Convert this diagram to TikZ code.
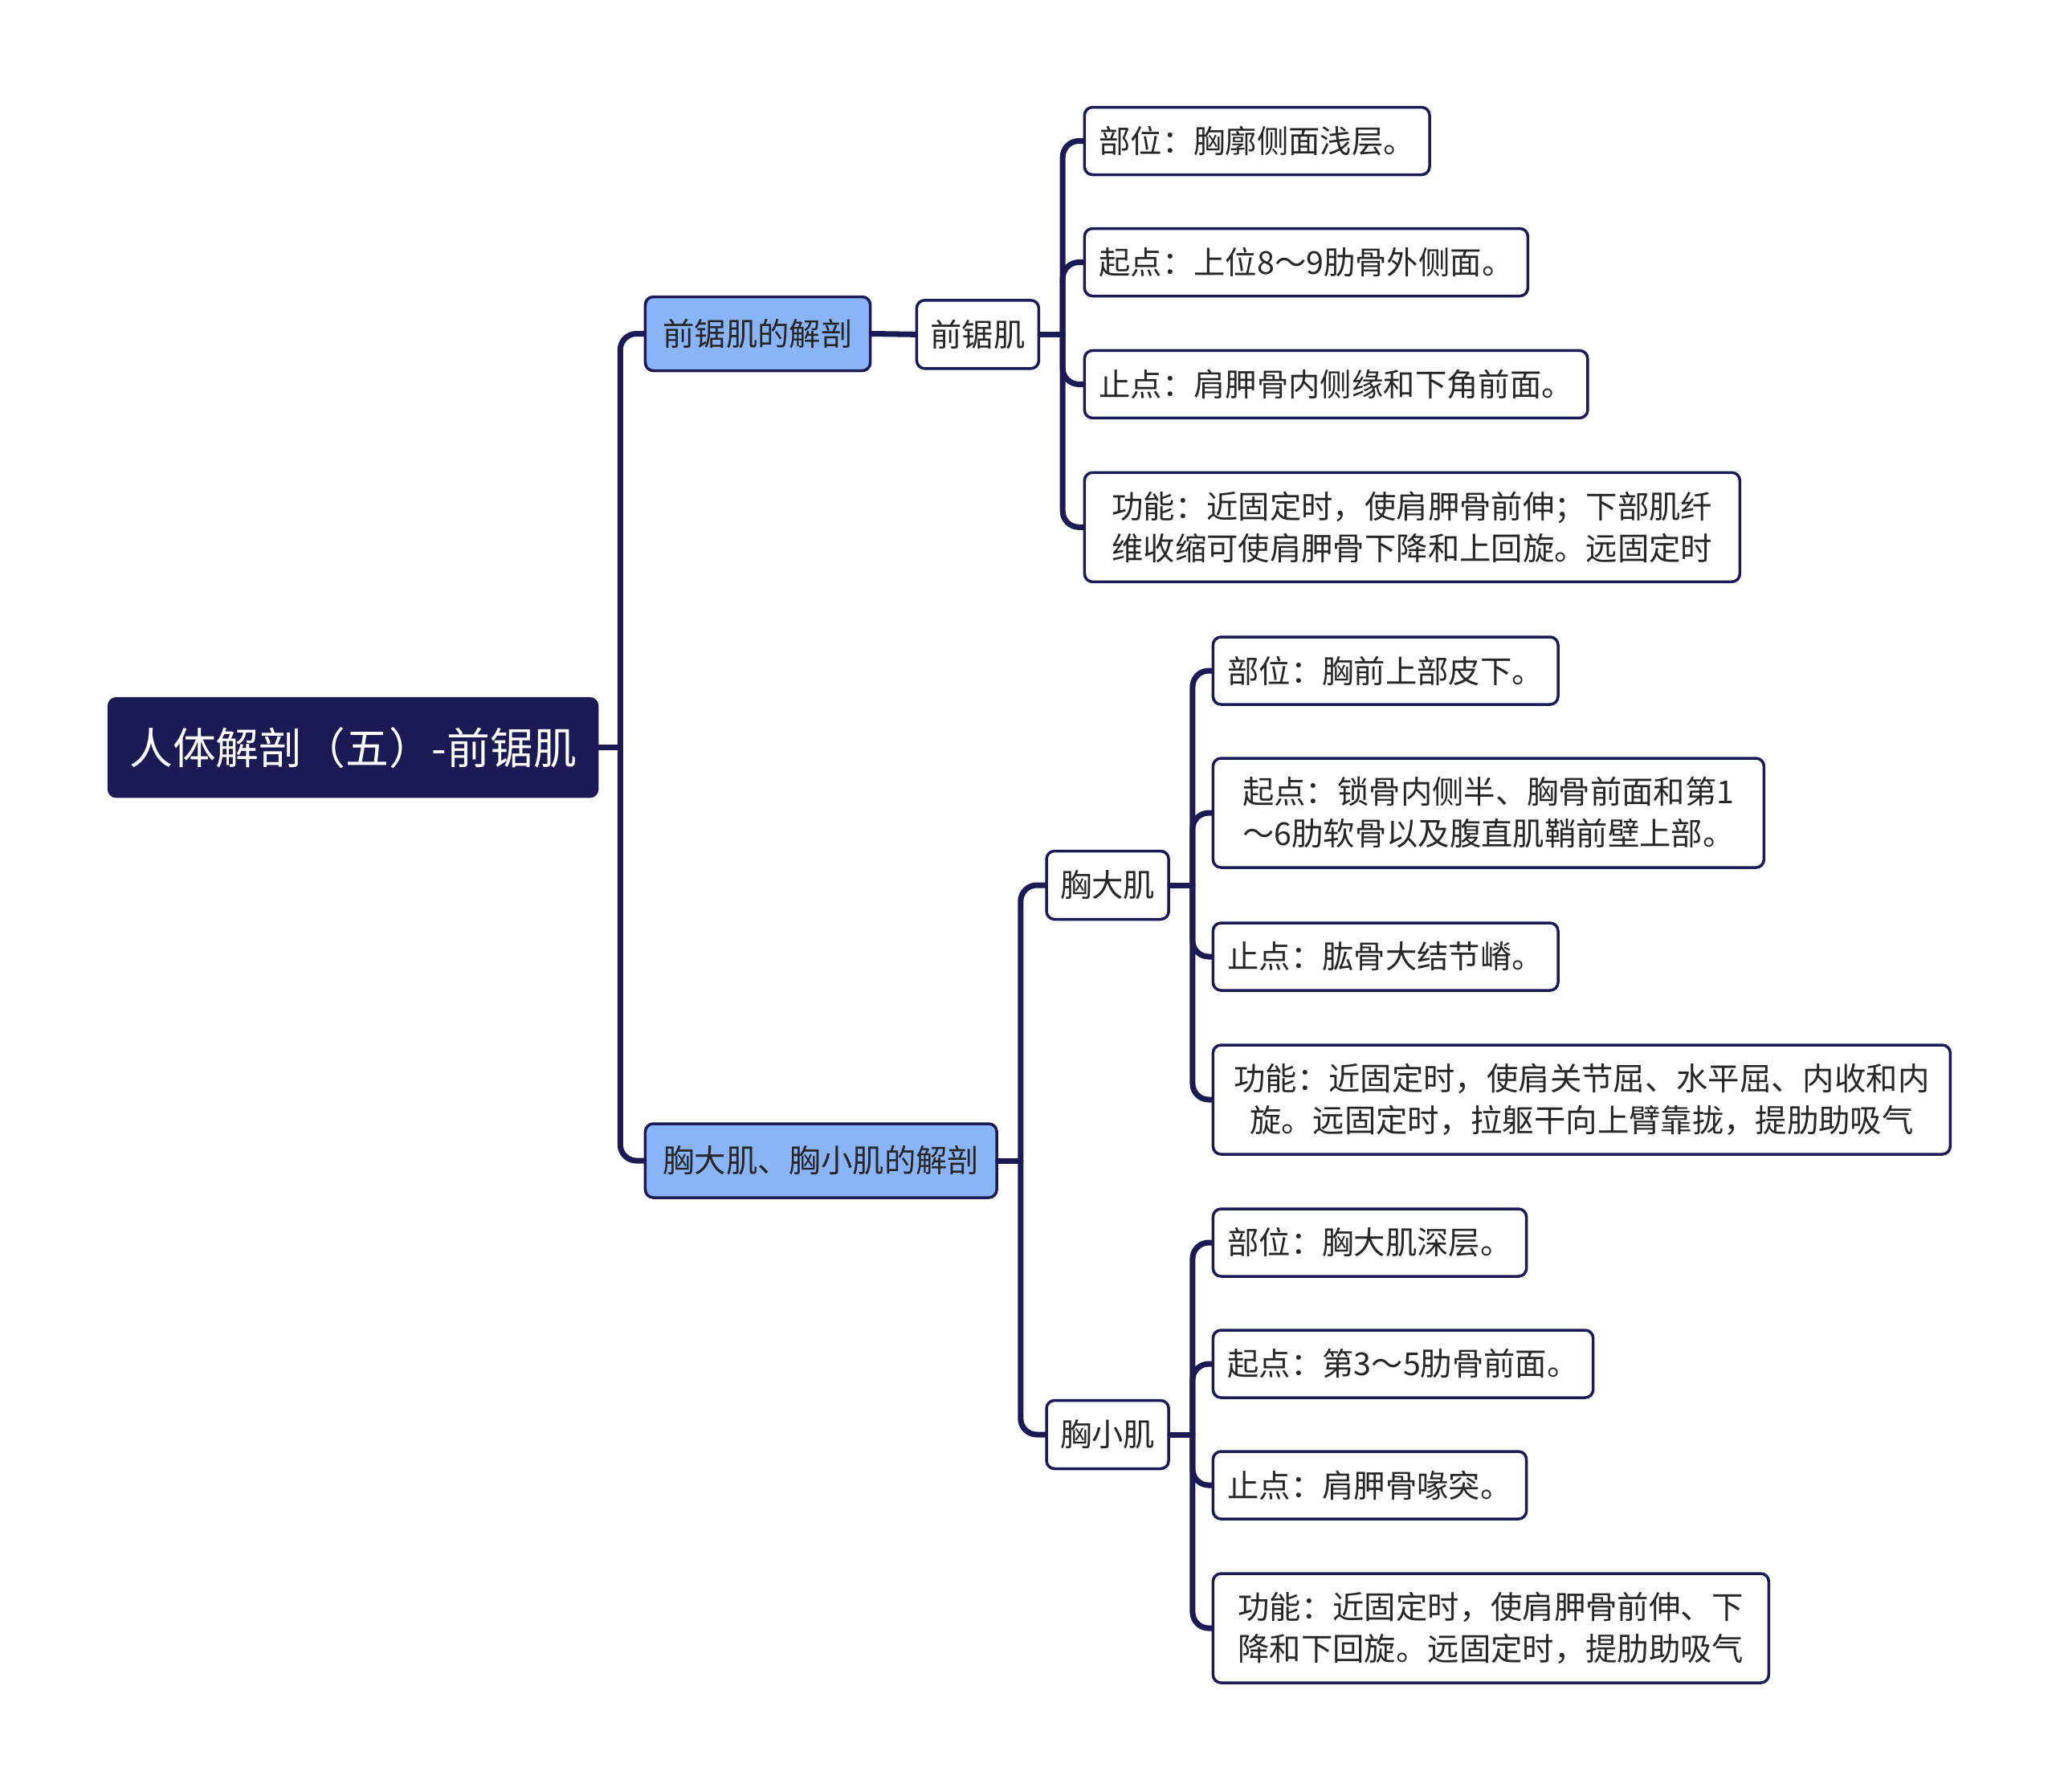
\documentclass[tikz,border=0pt]{standalone}
\usepackage{fontspec}
\setmainfont{Noto Sans CJK SC}
\usetikzlibrary{calc}

\definecolor{navy}{HTML}{1C1A55}
\definecolor{lightblue}{HTML}{8AB4F8}
\definecolor{txtgray}{HTML}{262626}

\begin{document}
\begin{tikzpicture}[x=1cm, y=-1cm,
    rootbox/.style={draw=navy, fill=navy, text=white, rounded corners=0.1cm,
        font=\fontsize{15.3}{20}\selectfont, minimum width=6.1cm, minimum height=1.24cm, anchor=west},
    topicbox/.style={draw=navy, line width=1pt, fill=lightblue, text=txtgray, rounded corners=0.1cm,
        font=\fontsize{11.2}{14.8}\selectfont, inner xsep=0.22cm, minimum height=0.92cm, anchor=west},
    musclebox/.style={draw=navy, line width=1pt, fill=white, text=txtgray, rounded corners=0.1cm,
        font=\fontsize{11.2}{14.8}\selectfont, inner xsep=0.17cm, minimum height=0.85cm, anchor=west},
    leafbox/.style={draw=navy, line width=1pt, fill=white, text=txtgray, rounded corners=0.1cm,
        font=\fontsize{11.2}{14.8}\selectfont, inner xsep=0.18cm, minimum height=0.84cm, anchor=west},
    twoline/.style={align=center, minimum height=1.36cm},
    conn/.style={draw=navy, line width=2pt, line cap=round}]
    \useasboundingbox (0,0) rectangle (25.6,22.3);

    % root and topics
    \node[rootbox] (root) at (1.339,9.306) {人体解剖（五）-前锯肌};
    \node[topicbox] (qjjpart) at (8.017,4.155) {前锯肌的解剖};
    \node[topicbox] (xjpart) at (8.017,14.45) {胸大肌、胸小肌的解剖};

    % muscles
    \node[musclebox] (qjj) at (11.396,4.163) {前锯肌};
    \node[musclebox] (xdj) at (13.013,11.02) {胸大肌};
    \node[musclebox] (xxj) at (13.013,17.86) {胸小肌};

    % 前锯肌
    \node[leafbox] (qjj1) at (13.486,1.755) {部位：胸廓侧面浅层。};
    \node[leafbox] (qjj2) at (13.486,3.265) {起点：上位8～9肋骨外侧面。};
    \node[leafbox] (qjj3) at (13.486,4.784) {止点：肩胛骨内侧缘和下角前面。};
    \node[leafbox, twoline, minimum width=8.16cm] (qjj4) at (13.486,6.563)
        {功能：近固定时，使肩胛骨前伸；下部肌纤\\维收缩可使肩胛骨下降和上回旋。远固定时};

    % 胸大肌
    \node[leafbox] (xdj1) at (15.086,8.35) {部位：胸前上部皮下。};
    \node[leafbox, twoline, minimum width=6.86cm] (xdj2) at (15.086,10.12)
        {起点：锁骨内侧半、胸骨前面和第1\\～6肋软骨以及腹直肌鞘前壁上部。};
    \node[leafbox] (xdj3) at (15.086,11.91) {止点：肱骨大结节嵴。};
    \node[leafbox, twoline, minimum width=9.18cm] (xdj4) at (15.086,13.69)
        {功能：近固定时，使肩关节屈、水平屈、内收和内\\旋。远固定时，拉躯干向上臂靠拢，提肋助吸气};

    % 胸小肌
    \node[leafbox] (xxj1) at (15.086,15.47) {部位：胸大肌深层。};
    \node[leafbox] (xxj2) at (15.086,16.98) {起点：第3～5肋骨前面。};
    \node[leafbox] (xxj3) at (15.086,18.49) {止点：肩胛骨喙突。};
    \node[leafbox, twoline, minimum width=6.92cm] (xxj4) at (15.086,20.27)
        {功能：近固定时，使肩胛骨前伸、下\\降和下回旋。远固定时，提肋助吸气};

    % connectors
    \draw[conn] (root.east) -- ++(0.27,0) coordinate (rootj);
    \foreach \c in {qjjpart, xjpart}
        \draw[conn, rounded corners=0.2cm] (rootj) |- (\c.west);
    \draw[conn] (qjjpart.east) -- (qjj.west);
    \draw[conn] (xjpart.east) -- ++(0.28,0) coordinate (xjj);
    \foreach \c in {xdj, xxj}
        \draw[conn, rounded corners=0.2cm] (xjj) |- (\c.west);
    \draw[conn] (qjj.east) -- ++(0.28,0) coordinate (qjjj);
    \foreach \c in {qjj1, qjj2, qjj3, qjj4}
        \draw[conn, rounded corners=0.2cm] (qjjj) |- (\c.west);
    \draw[conn] (xdj.east) -- ++(0.28,0) coordinate (xdjj);
    \foreach \c in {xdj1, xdj2, xdj3, xdj4}
        \draw[conn, rounded corners=0.2cm] (xdjj) |- (\c.west);
    \draw[conn] (xxj.east) -- ++(0.28,0) coordinate (xxjj);
    \foreach \c in {xxj1, xxj2, xxj3, xxj4}
        \draw[conn, rounded corners=0.2cm] (xxjj) |- (\c.west);
\end{tikzpicture}
\end{document}
